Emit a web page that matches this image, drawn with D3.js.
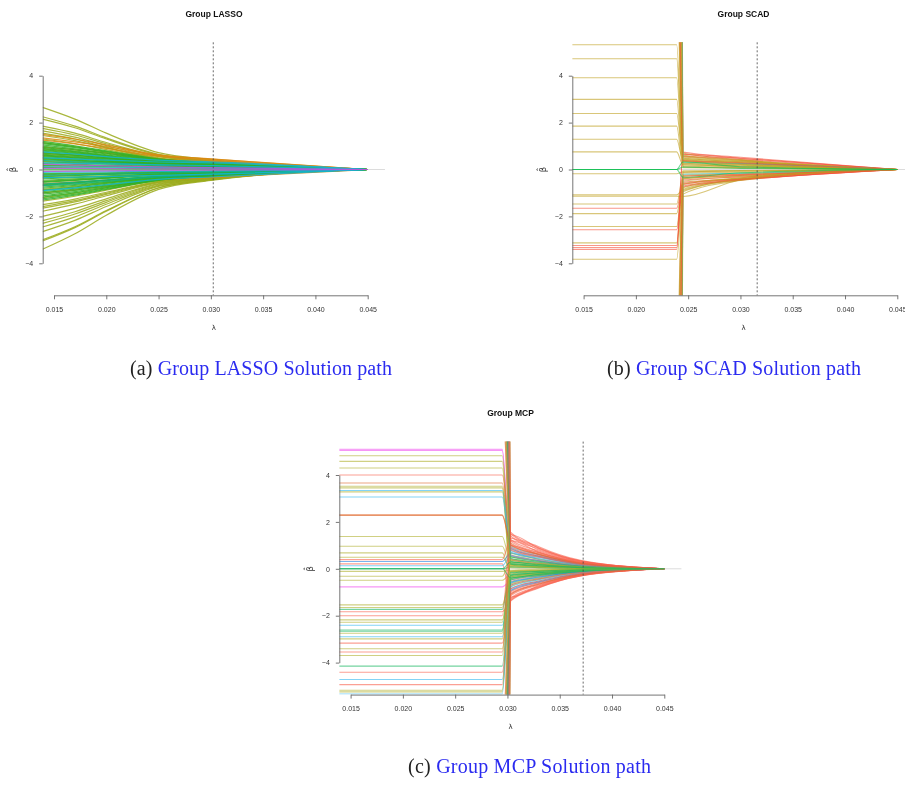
<!DOCTYPE html>
<html>
<head>
  <meta charset="utf-8">
  <script src="https://d3js.org/d3.v7.min.js"></script>
  <style>
    body { margin: 0; background: #fff; }
    svg { display: block; will-change: transform; }
  </style>
</head>
<body>
<script type="text/javascript">

  // ---- data ----
  var xTicks = [0.015, 0.020, 0.025, 0.030, 0.035, 0.040, 0.045];
  var yTicks = [-4, -2, 0, 2, 4];
  var lambdaMin = 0.0139, lambdaEdge = 0.04665;

  var titles = ["Group LASSO", "Group SCAD", "Group MCP"];
  var captionTags = ["(a)", "(b)", "(c)"];
  var captionTexts = ["Group LASSO Solution path", "Group SCAD Solution path", "Group MCP Solution path"];
  var cutoffs = [0.03023, 0.0316, 0.03724];   // dotted vertical line

  // group LASSO: beta at each lambda, first entry = group colour key
  var lassoLambda = [0.0139, 0.0170, 0.020, 0.025, 0.030, 0.045];
  var lassoPaths = [
    ["o", 2.65, 2.15, 1.55, 0.72, 0.42, 0], ["o", 2.25, 1.85, 1.35, 0.65, 0.38, 0], ["o", 2.15, 1.78, 1.30, 0.62, 0.36, 0],
    ["o", 1.85, 1.55, 1.15, 0.58, 0.35, 0], ["o", 1.75, 1.47, 1.10, 0.55, 0.33, 0], ["o", 1.65, 1.38, 1.02, 0.50, 0.30, 0],
    ["o", 1.55, 1.30, 0.95, 0.48, 0.30, 0], ["o", 1.45, 1.23, 0.92, 0.46, 0.28, 0], ["o", 1.30, 1.11, 0.85, 0.45, 0.28, 0],
    ["o", 1.15, 0.97, 0.72, 0.40, 0.25, 0], ["o", 0.88, 0.75, 0.58, 0.34, 0.21, 0], ["o", 0.60, 0.51, 0.40, 0.25, 0.16, 0],
    ["o", 0.35, 0.30, 0.25, 0.16, 0.10, 0], ["o", -0.28, -0.24, -0.20, -0.13, -0.09, 0],
    ["o", -0.50, -0.43, -0.35, -0.22, -0.15, 0], ["o", -0.85, -0.72, -0.57, -0.34, -0.21, 0], ["o", -1.20, -1.01, -0.78, -0.43, -0.27, 0],
    ["o", -1.35, -1.14, -0.88, -0.47, -0.29, 0], ["o", -1.50, -1.26, -0.97, -0.50, -0.31, 0], ["o", -1.58, -1.33, -1.02, -0.52, -0.32, 0],
    ["o", -1.65, -1.38, -1.06, -0.54, -0.33, 0], ["o", -1.78, -1.48, -1.12, -0.56, -0.34, 0], ["o", -2.00, -1.66, -1.25, -0.60, -0.36, 0],
    ["o", -2.18, -1.80, -1.33, -0.63, -0.38, 0], ["o", -2.30, -1.90, -1.40, -0.66, -0.39, 0], ["o", -2.45, -2.02, -1.48, -0.69, -0.40, 0],
    ["o", -2.65, -2.17, -1.58, -0.72, -0.42, 0], ["o", -3.00, -2.44, -1.75, -0.78, -0.44, 0], ["o", -3.05, -2.48, -1.78, -0.79, -0.44, 0],
    ["o", -3.40, -2.74, -1.95, -0.85, -0.47, 0],
    ["r", 1.50, 1.30, 1.05, 0.62, 0.45, 0], ["r", 1.35, 1.18, 0.98, 0.60, 0.44, 0], ["r", 1.25, 1.09, 0.90, 0.56, 0.40, 0],
    ["r", 0.95, 0.84, 0.70, 0.45, 0.35, 0], ["r", 0.68, 0.60, 0.50, 0.35, 0.28, 0], ["r", -0.60, -0.53, -0.45, -0.32, -0.25, 0],
    ["r", -1.00, -0.87, -0.72, -0.45, -0.35, 0], ["r", 0.15, 0.14, 0.12, 0.09, 0.07, 0],
    ["g", 1.20, 1.01, 0.80, 0.45, 0.28, 0], ["g", 1.10, 0.93, 0.75, 0.42, 0.27, 0], ["g", 1.05, 0.88, 0.70, 0.40, 0.26, 0],
    ["g", 1.00, 0.84, 0.66, 0.38, 0.24, 0], ["g", 0.94, 0.79, 0.63, 0.36, 0.23, 0], ["g", 0.90, 0.76, 0.60, 0.35, 0.22, 0],
    ["g", 0.85, 0.72, 0.57, 0.34, 0.22, 0], ["g", 0.82, 0.69, 0.55, 0.33, 0.22, 0], ["g", 0.78, 0.66, 0.52, 0.32, 0.20, 0],
    ["g", 0.73, 0.62, 0.50, 0.31, 0.20, 0], ["g", 0.70, 0.60, 0.48, 0.30, 0.20, 0], ["g", 0.65, 0.56, 0.46, 0.29, 0.19, 0],
    ["g", 0.62, 0.53, 0.44, 0.28, 0.18, 0], ["g", 0.58, 0.50, 0.40, 0.26, 0.17, 0], ["g", 0.55, 0.47, 0.38, 0.24, 0.16, 0],
    ["g", 0.51, 0.44, 0.36, 0.23, 0.15, 0], ["g", 0.48, 0.41, 0.33, 0.22, 0.15, 0], ["g", 0.45, 0.39, 0.32, 0.21, 0.14, 0],
    ["g", 0.42, 0.36, 0.30, 0.20, 0.13, 0], ["g", 0.32, 0.28, 0.24, 0.16, 0.11, 0], ["g", 0.25, 0.22, 0.19, 0.13, 0.09, 0],
    ["g", 0.18, 0.16, 0.14, 0.10, 0.07, 0], ["g", 0.08, 0.07, 0.06, 0.04, 0.03, 0], ["g", -0.02, -0.02, -0.02, -0.01, -0.01, 0],
    ["g", -0.18, -0.16, -0.14, -0.10, -0.07, 0], ["g", -0.22, -0.19, -0.17, -0.12, -0.08, 0], ["g", -0.30, -0.26, -0.22, -0.15, -0.10, 0],
    ["g", -0.36, -0.31, -0.27, -0.18, -0.12, 0], ["g", -0.40, -0.35, -0.30, -0.20, -0.13, 0], ["g", -0.46, -0.40, -0.33, -0.22, -0.14, 0],
    ["g", -0.52, -0.45, -0.36, -0.23, -0.15, 0], ["g", -0.55, -0.47, -0.38, -0.24, -0.16, 0], ["g", -0.65, -0.56, -0.45, -0.28, -0.18, 0],
    ["g", -0.68, -0.58, -0.47, -0.29, -0.19, 0], ["g", -0.75, -0.64, -0.52, -0.32, -0.20, 0], ["g", -0.80, -0.68, -0.55, -0.34, -0.21, 0],
    ["g", -0.88, -0.75, -0.59, -0.35, -0.22, 0], ["g", -0.95, -0.80, -0.63, -0.37, -0.23, 0], ["g", -1.00, -0.84, -0.67, -0.39, -0.24, 0],
    ["g", -1.05, -0.89, -0.70, -0.40, -0.25, 0], ["g", -1.12, -0.94, -0.74, -0.42, -0.26, 0], ["g", -1.18, -0.99, -0.77, -0.43, -0.27, 0],
    ["g", -1.25, -1.05, -0.82, -0.45, -0.28, 0], ["g", 1.15, 0.97, 0.77, 0.44, 0.28, 0], ["g", -1.30, -1.09, -0.85, -0.46, -0.28, 0],
    ["t", 0.38, 0.33, 0.28, 0.20, 0.14, 0], ["t", -0.25, -0.22, -0.20, -0.15, -0.11, 0], ["t", -0.70, -0.61, -0.50, -0.32, -0.22, 0],
    ["t", -0.62, -0.54, -0.44, -0.29, -0.20, 0],
    ["c", 0.75, 0.66, 0.55, 0.40, 0.33, 0], ["c", 0.50, 0.45, 0.40, 0.32, 0.28, 0], ["c", 0.28, 0.26, 0.24, 0.20, 0.17, 0],
    ["c", 0.12, 0.11, 0.10, 0.08, 0.06, 0], ["c", -0.12, -0.11, -0.10, -0.08, -0.07, 0], ["c", -0.35, -0.33, -0.30, -0.25, -0.20, 0],
    ["c", -0.90, -0.78, -0.65, -0.42, -0.32, 0],
    ["p", 0.22, 0.19, 0.16, 0.11, 0.08, 0], ["p", 0.05, 0.05, 0.04, 0.03, 0.02, 0], ["p", -0.08, -0.07, -0.06, -0.04, -0.03, 0]
  ];

  // group SCAD
  var scadLambda = [0.0139, 0.0239, 0.0245, 0.0300, 0.0450];
  var scadPaths = [
    // flat on the left, then jump into the fan
    ["k", 5.32, 5.32, 0.60, 0.38, 0], ["k", 4.72, 4.72, 0.45, 0.30, 0], ["k", 3.91, 3.91, 0.35, 0.24, 0],
    ["k", 2.99, 2.99, 0.25, 0.18, 0], ["k", 2.39, 2.39, 0.50, 0.33, 0], ["k", 1.85, 1.85, 0.15, 0.10, 0],
    ["k", 1.29, 1.29, 0.40, 0.26, 0], ["k", 0.75, 0.75, 0.20, 0.14, 0], ["k", -0.18, -0.18, -0.10, -0.07, 0],
    ["k", -1.08, -1.08, -0.85, -0.40, 0], ["k", -1.14, -1.14, -1.15, -0.45, 0], ["k", -1.47, -1.47, -0.30, -0.20, 0],
    ["r", -1.65, -1.65, -0.55, -0.40, 0], ["k", -1.88, -1.88, -0.65, -0.35, 0], ["k", -2.43, -2.43, -0.40, -0.25, 0],
    ["r", -2.57, -2.57, -0.70, -0.45, 0], ["k", -3.13, -3.13, -0.50, -0.30, 0], ["r", -3.24, -3.24, 0.65, 0.48, 0],
    ["r", -3.33, -3.33, -0.35, -0.25, 0], ["r", -3.41, -3.41, 0.55, 0.42, 0], ["k", -3.83, -3.83, -0.95, -0.42, 0],
    // off the chart on the left
    ["k", 40, 40, 0.70, 0.42, 0], ["r", 35, 35, 0.74, 0.52, 0], ["k", 12, 12, 0.62, 0.40, 0],
    ["k", 60, 60, 0.55, 0.36, 0], ["r", 9, 9, 0.66, 0.47, 0], ["k", 30, 30, 0.48, 0.34, 0],
    ["k", 8, 8, 0.42, 0.30, 0], ["c", 45, 45, 0.30, 0.25, 0], ["k", 16, 16, 0.35, 0.22, 0],
    ["k", 22, 22, 0.28, 0.20, 0], ["k", 28, 28, 0.12, 0.08, 0], ["k", 10, 10, 0.20, 0.15, 0],
    ["k", 33, 33, 0.08, 0.06, 0], ["r", 14, 14, 0.38, 0.28, 0],
    ["k", -40, -40, -0.60, -0.38, 0], ["r", -30, -30, -0.75, -0.46, 0], ["k", -12, -12, -0.90, -0.44, 0],
    ["k", -55, -55, -1.05, -0.47, 0], ["r", -9, -9, -0.45, -0.32, 0], ["k", -35, -35, -0.38, -0.28, 0],
    ["k", -8, -8, -0.25, -0.18, 0], ["c", -45, -45, -0.20, -0.16, 0], ["k", -18, -18, -0.78, -0.36, 0],
    ["r", -16, -16, -0.62, -0.42, 0], ["k", -22, -22, -0.15, -0.12, 0], ["k", -50, -50, -0.05, -0.04, 0],
    ["k", -10, -10, -0.12, -0.06, 0], ["r", -25, -25, -0.28, -0.22, 0],
    // zero on the left
    ["g", 0, 0, 0.32, 0.12, 0], ["g", 0, 0, -0.33, -0.14, 0], ["g", 0, 0, 0.10, 0.05, 0]
  ];

  // group MCP
  var mcpLambda = [0.0139, 0.0295, 0.0303, 0.0330, 0.0370, 0.0450];
  var mcpPaths = [
    ["m", 5.10, 5.10, 0.42, 0.26, 0.10, 0], ["m", 5.05, 5.05, 0.38, 0.23, 0.09, 0], ["o", 4.82, 4.82, 0.30, 0.18, 0.07, 0],
    ["o", 4.58, 4.58, -0.28, -0.17, -0.06, 0], ["o", 4.30, 4.30, 0.20, 0.12, 0.05, 0], ["r", 4.00, 4.00, 1.56, 0.94, 0.36, 0],
    ["n", 3.66, 3.66, 0.85, 0.52, 0.20, 0], ["o", 3.52, 3.52, -0.35, -0.21, -0.08, 0], ["o", 3.45, 3.45, 0.15, 0.09, 0.04, 0],
    ["c", 3.34, 3.34, 0.95, 0.60, 0.24, 0], ["o", 3.28, 3.28, -0.18, -0.11, -0.04, 0], ["c", 3.06, 3.06, 0.78, 0.48, 0.19, 0],
    ["n", 2.30, 2.30, 1.10, 0.68, 0.26, 0], ["n", 2.28, 2.28, 1.02, 0.62, 0.24, 0], ["o", 1.38, 1.38, 0.25, 0.15, 0.06, 0],
    ["o", 0.96, 0.96, 0.10, 0.06, 0.02, 0], ["o", 0.68, 0.68, -0.12, -0.07, -0.03, 0], ["o", 0.49, 0.49, 0.05, 0.03, 0.01, 0],
    ["r", 0.39, 0.39, 1.30, 0.80, 0.30, 0], ["b", 0.31, 0.31, 0.65, 0.40, 0.16, 0], ["r", 0.21, 0.21, -1.20, -0.72, -0.27, 0],
    ["c", 0.13, 0.13, 0.55, 0.34, 0.13, 0], ["g", 0, 0, 0.08, 0.05, 0.02, 0], ["o", -0.11, -0.11, -0.06, -0.04, -0.01, 0],
    ["o", -0.32, -0.32, 0.35, 0.21, 0.08, 0], ["o", -0.49, -0.49, -0.22, -0.13, -0.05, 0], ["m", -0.77, -0.77, -0.50, -0.30, -0.11, 0],
    ["o", -1.54, -1.54, -0.30, -0.18, -0.07, 0], ["o", -1.65, -1.65, 0.18, 0.11, 0.04, 0], ["g", -1.73, -1.73, -0.15, -0.09, -0.03, 0],
    ["r", -1.83, -1.83, -1.35, -0.80, -0.30, 0], ["r", -2.00, -2.00, 1.45, 0.88, 0.33, 0], ["o", -2.18, -2.18, -0.40, -0.24, -0.09, 0],
    ["o", -2.28, -2.28, 0.12, 0.07, 0.03, 0], ["c", -2.41, -2.41, -0.85, -0.52, -0.20, 0], ["g", -2.61, -2.61, 0.22, 0.13, 0.05, 0],
    ["g", -2.66, -2.66, -0.26, -0.16, -0.06, 0], ["o", -2.75, -2.75, -0.08, -0.05, -0.02, 0], ["c", -2.90, -2.90, -0.70, -0.42, -0.16, 0],
    ["o", -2.99, -2.99, 0.40, 0.24, 0.09, 0], ["r", -3.17, -3.17, -1.05, -0.63, -0.24, 0], ["o", -3.41, -3.41, -0.45, -0.27, -0.10, 0],
    ["r", -3.55, -3.55, 1.20, 0.72, 0.27, 0], ["o", -3.70, -3.70, 0.28, 0.17, 0.06, 0], ["g", -4.15, -4.15, -0.34, -0.20, -0.08, 0],
    ["r", -4.41, -4.41, -1.25, -0.75, -0.28, 0], ["c", -4.72, -4.72, -0.95, -0.58, -0.22, 0], ["r", -4.94, -4.94, 0.98, 0.60, 0.23, 0],
    ["o", -5.18, -5.18, -0.55, -0.33, -0.12, 0], ["o", -5.25, -5.25, 0.50, 0.30, 0.11, 0], ["c", -5.34, -5.34, -0.62, -0.37, -0.14, 0],
    // off the chart on the left
    ["o", 30, 30, 0.60, 0.36, 0.14, 0], ["g", 45, 45, 0.45, 0.28, 0.11, 0], ["r", 9, 9, 1.40, 0.85, 0.32, 0],
    ["o", 60, 60, 0.70, 0.42, 0.16, 0], ["r", 14, 14, 1.25, 0.76, 0.29, 0], ["b", 35, 35, 0.88, 0.54, 0.21, 0],
    ["g", 12, 12, 0.32, 0.20, 0.08, 0], ["o", 8, 8, 0.15, 0.09, 0.04, 0], ["r", 40, 40, 1.05, 0.64, 0.24, 0],
    ["c", 20, 20, 0.72, 0.44, 0.17, 0], ["g", 25, 25, 0.20, 0.12, 0.05, 0], ["p", 22, 22, 0.58, 0.35, 0.13, 0],
    ["r", 7, 7, 1.50, 0.90, 0.34, 0], ["r", 11, 11, 1.18, 0.70, 0.27, 0], ["r", 18, 18, 0.92, 0.56, 0.22, 0],
    ["r", 50, 50, 0.80, 0.50, 0.19, 0], ["g", 16, 16, 0.52, 0.32, 0.12, 0], ["o", 10, 10, 0.38, 0.23, 0.09, 0],
    ["o", -30, -30, -0.65, -0.39, -0.15, 0], ["g", -45, -45, -0.42, -0.25, -0.10, 0], ["r", -9, -9, -1.30, -0.78, -0.29, 0],
    ["o", -60, -60, -0.75, -0.45, -0.17, 0], ["r", -14, -14, -1.15, -0.69, -0.26, 0], ["b", -35, -35, -0.92, -0.55, -0.21, 0],
    ["g", -12, -12, -0.28, -0.17, -0.06, 0], ["o", -8, -8, -0.12, -0.07, -0.03, 0], ["r", -40, -40, -0.98, -0.59, -0.22, 0],
    ["c", -20, -20, -0.78, -0.47, -0.18, 0], ["g", -25, -25, -0.18, -0.11, -0.04, 0], ["b", -22, -22, -0.58, -0.35, -0.13, 0],
    ["r", -7, -7, -1.38, -0.82, -0.31, 0], ["r", -11, -11, -1.08, -0.65, -0.24, 0], ["r", -18, -18, -0.86, -0.52, -0.20, 0],
    ["r", -50, -50, -0.70, -0.43, -0.16, 0], ["g", -16, -16, -0.48, -0.29, -0.11, 0], ["o", -10, -10, -0.35, -0.21, -0.08, 0],
    ["n", 33, 33, 1.00, 0.61, 0.23, 0], ["n", -33, -33, -1.10, -0.66, -0.25, 0],
    // zero on the left
    ["g", 0, 0, 0.28, 0.17, 0.06, 0], ["g", 0, 0, -0.38, -0.23, -0.09, 0]
  ];

  var lassoColors = { o: "#9aaa1a", r: "#d98a10", g: "#33b024", t: "#10b080", c: "#14b4d0", p: "#b05ad8" };
  var scadColors  = { k: "#c0a020", r: "#f5503a", g: "#10c050", c: "#10b8d8" };
  var mcpColors   = { o: "#b0b030", r: "#f8604c", n: "#e06a30", c: "#30b8f0", g: "#18b860",
                      b: "#2080e0", m: "#f050f0", p: "#9b60f0" };

  // ---- drawing ----
  var svg = d3.select("body").append("svg")
      .attr("width", 905).attr("height", 785);

  var panels = [
    { dx: 0,     dy: 0,     lambda: lassoLambda, paths: lassoPaths, colors: lassoColors, alpha: 0.85, lw: 1.2 },
    { dx: 529.6, dy: 0,     lambda: scadLambda,  paths: scadPaths,  colors: scadColors,  alpha: 0.6,  lw: 1.1 },
    { dx: 296.6, dy: 399.3, lambda: mcpLambda,   paths: mcpPaths,   colors: mcpColors,   alpha: 0.6,  lw: 1.1 }
  ];

  var x = d3.scaleLinear().domain([0.015, 0.045]).range([54, 367.7]);
  var y = d3.scaleLinear().domain([-4, 4]).range([263.3, 75.7]);
  var plotTop = 42.3, plotBottom = 295.3, plotLeft = 42.7, plotRight = 385.2;

  panels.forEach(function (p, i) {
    var g = svg.append("g").attr("transform", "translate(" + p.dx + "," + p.dy + ")");

    g.append("clipPath").attr("id", "clip" + i)
      .append("rect")
        .attr("x", plotLeft).attr("y", plotTop)
        .attr("width", plotRight - plotLeft).attr("height", plotBottom - plotTop);

    var plot = g.append("g").attr("clip-path", "url(#clip" + i + ")");

    // light zero line behind the paths
    plot.append("line")
        .attr("x1", x(lambdaMin)).attr("x2", x(lambdaEdge))
        .attr("y1", y(0)).attr("y2", y(0))
        .style("stroke", "#dcdcdc").style("stroke-width", 1);

    var line = d3.line()
        .x(function (d) { return x(d[0]); })
        .y(function (d) { return y(d[1]); })
        .curve(d3.curveMonotoneX);

    plot.selectAll("path.beta")
        .data(p.paths)
      .enter().append("path")
        .attr("class", "beta")
        .attr("d", function (row) {
          return line(p.lambda.map(function (l, j) { return [l, row[j + 1]]; }));
        })
        .style("fill", "none")
        .style("stroke", function (row) { return p.colors[row[0]]; })
        .style("stroke-opacity", p.alpha)
        .style("stroke-width", p.lw);

    // selected lambda
    g.append("line")
        .attr("x1", x(cutoffs[i])).attr("x2", x(cutoffs[i]))
        .attr("y1", plotTop).attr("y2", plotBottom)
        .style("stroke", "#444").style("stroke-width", 0.8)
        .style("stroke-dasharray", "2,2");

    var xAxis = g.append("g")
        .attr("transform", "translate(0," + plotBottom + ")")
        .call(d3.axisBottom(x).tickValues(xTicks).tickFormat(d3.format(".3f"))
              .tickSize(4).tickSizeOuter(0).tickPadding(7.5));

    var yAxis = g.append("g")
        .attr("transform", "translate(" + plotLeft + ",0)")
        .call(d3.axisLeft(y).tickValues(yTicks).tickFormat(d3.format("d"))
              .tickSize(3.5).tickSizeOuter(0).tickPadding(6));

    [xAxis, yAxis].forEach(function (a) {
      a.selectAll("path,line").style("stroke", "#666").style("stroke-width", 0.9);
      a.selectAll("text").style("font-family", "Liberation Sans, Arial, sans-serif")
        .style("font-size", "7px").style("fill", "#333");
    });

    var mid = (plotLeft + plotRight) / 2;
    g.append("text")
        .attr("x", mid).attr("y", 16.5)
        .attr("text-anchor", "middle")
        .style("font-family", "Liberation Sans, Arial, sans-serif")
        .style("font-weight", "bold").style("font-size", "8.5px").style("fill", "#111")
        .text(titles[i]);

    g.append("text")
        .attr("x", mid).attr("y", 330)
        .attr("text-anchor", "middle")
        .style("font-family", "DejaVu Sans, sans-serif")
        .style("font-size", "7px").style("fill", "#333")
        .text("λ");

    g.append("text")
        .attr("transform", "translate(16," + y(0) + ") rotate(-90)")
        .attr("text-anchor", "middle")
        .style("font-family", "DejaVu Sans, sans-serif")
        .style("font-size", "8.5px").style("fill", "#333")
        .text("β\u0302");
  });

  // sub-figure captions
  var capX = [261, 734, 529.5], capY = [375, 375, 773], capW = [262, 254, 243];
  captionTags.forEach(function (tag, i) {
    var t = svg.append("text")
        .attr("x", capX[i]).attr("y", capY[i])
        .attr("text-anchor", "middle")
        .attr("textLength", capW[i]).attr("lengthAdjust", "spacing")
        .style("font-family", "Liberation Serif, serif")
        .style("font-size", "20px");
    t.append("tspan").style("fill", "#222").text(tag + " ");
    t.append("tspan").style("fill", "#2b2bf0").text(captionTexts[i]);
  });

</script>
</body>
</html>
